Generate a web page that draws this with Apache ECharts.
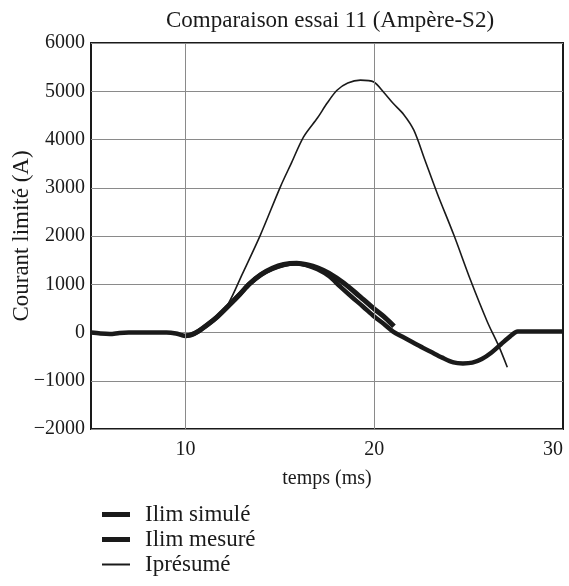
<!DOCTYPE html>
<html><head><meta charset="utf-8">
<script src="https://cdn.jsdelivr.net/npm/echarts@6/dist/echarts.min.js"></script>
<style>html,body{margin:0;padding:0;background:#fff}#c{width:569px;height:586px}</style>
</head><body><div id="c"></div>
<script>
const titleText = 'Comparaison essai 11 (Ampère-S2)';
const xName = 'temps (ms)';
const yName = 'Courant limité (A)';
const seriesNames = ['Ilim simulé', 'Ilim mesuré', 'Iprésumé'];
const xGridTicks = [10, 20];

// Ilim simulé (short thick curve, ends ~21 ms)
const simT = [10.0, 10.3, 10.7, 11.2, 11.7, 12.3, 12.9, 13.4, 14.0, 14.6, 15.2, 15.9, 16.5, 17.0, 17.6, 18.4, 19.2, 20.0, 20.6, 21.05];
const simI = [-70, -50, 30, 170, 330, 560, 800, 1010, 1200, 1330, 1410, 1435, 1400, 1340, 1230, 1020, 760, 490, 300, 130];

// Ilim mesuré (full thick curve)
const mesT = [5.0, 5.5, 6.0, 6.5, 7.0, 8.0, 9.0, 9.5, 9.8, 10.0, 10.3, 10.7, 11.2, 11.7, 12.3, 12.9, 13.4, 14.0, 14.6, 15.2, 15.8, 16.4, 17.0, 17.6, 18.2, 18.8, 19.4, 20.0, 20.5, 21.0, 21.5, 22.3, 23.0, 23.6, 24.2, 24.7, 25.2, 25.7, 26.2, 26.7, 27.2, 27.6, 28.0, 29.0, 30.0];
const mesI = [0, -20, -30, -10, 0, 0, 0, -20, -55, -70, -50, 30, 170, 330, 560, 800, 1010, 1200, 1320, 1400, 1430, 1400, 1310, 1170, 950, 740, 540, 330, 180, 20, -90, -260, -400, -520, -620, -640, -625, -550, -420, -250, -80, 20, 20, 20, 20];

// Iprésumé (thin curve)
const preT = [10.3, 10.7, 11.2, 11.7, 12.28, 13.0, 13.97, 15.03, 15.6, 16.26, 17.0, 17.5, 18.03, 18.6, 19.27, 19.98, 20.5, 21.0, 21.56, 22.1, 22.7, 23.34, 24.22, 25.1, 25.99, 26.61, 27.05];
const preI = [-50, 30, 170, 340, 604, 1200, 2019, 3019, 3500, 4054, 4450, 4750, 5020, 5170, 5230, 5193, 4980, 4750, 4520, 4193, 3560, 2882, 2019, 1087, 224, -294, -720];

const yMin = -2000, yMax = 6000, yStep = 1000;
const xMin = 5, xMax = 30, xStep = 5;

const zip = (a, b) => a.map((v, i) => [v, b[i]]);
const serif = '"Liberation Serif", "DejaVu Serif", serif';
const minus = v => String(v).replace('-', '\u2212');
const ink = '#1a1a1a';

const legendText = {fontFamily: serif, fontSize: 23, lineHeight: 25, color: ink, padding: [0, 0, 0, 10]};

const chart = echarts.init(document.getElementById('c'), null, {renderer: 'canvas'});
chart.setOption({
  animation: false,
  backgroundColor: '#fff',
  title: {
    text: titleText, left: 325, top: 4, textAlign: 'center',
    textStyle: {fontFamily: serif, fontSize: 23, fontWeight: 'normal', color: ink}
  },
  grid: {left: 91, right: 6, top: 43, bottom: 157, show: true, borderColor: ink, borderWidth: 2,
    backgroundColor: 'transparent', containLabel: false, outerBoundsMode: 'none'},
  legend: [
    {orient: 'vertical', left: 97, top: 497, itemGap: 0, itemWidth: 28, itemHeight: 5, icon: 'rect',
      data: seriesNames.slice(0, 2), textStyle: legendText},
    {orient: 'vertical', left: 97, top: 547, itemGap: 0, itemWidth: 28, itemHeight: 2, icon: 'rect',
      data: seriesNames.slice(2), textStyle: legendText}
  ],
  xAxis: {
    type: 'value', min: xMin, max: xMax, interval: xStep,
    name: xName, nameLocation: 'middle', nameGap: 40, nameMoveOverlap: false,
    nameTextStyle: {fontFamily: serif, fontSize: 20, color: ink},
    axisLine: {show: false}, axisTick: {show: false},
    axisLabel: {margin: 11, fontFamily: serif, fontSize: 20, color: ink, alignMaxLabel: 'right',
      formatter: v => (v % 10 === 0 ? String(v) : '')},
    splitLine: {show: false}
  },
  yAxis: {
    type: 'value', min: yMin, max: yMax, interval: yStep,
    name: yName, nameLocation: 'middle', nameGap: 58, nameMoveOverlap: false,
    nameTextStyle: {fontFamily: serif, fontSize: 23, color: ink},
    axisLine: {show: false}, axisTick: {show: false},
    axisLabel: {margin: 6, fontFamily: serif, fontSize: 20, color: ink, formatter: minus},
    splitLine: {show: true, lineStyle: {color: '#8a8a8a', width: 1}}
  },
  series: [
    {name: seriesNames[0], type: 'line', data: zip(simT, simI), symbol: 'none', smooth: 0.3,
      lineStyle: {color: ink, width: 5}, itemStyle: {color: ink}, z: 3},
    {name: seriesNames[1], type: 'line', data: zip(mesT, mesI), symbol: 'none', smooth: 0.3,
      lineStyle: {color: ink, width: 4.5}, itemStyle: {color: ink}, z: 3,
      markLine: {silent: true, symbol: 'none', label: {show: false},
        lineStyle: {color: '#8a8a8a', width: 1, type: 'solid'},
        data: xGridTicks.map(v => ({xAxis: v}))}},
    {name: seriesNames[2], type: 'line', data: zip(preT, preI), symbol: 'none', smooth: 0.3,
      lineStyle: {color: ink, width: 1.6}, itemStyle: {color: ink}, z: 4}
  ]
});
</script></body></html>
